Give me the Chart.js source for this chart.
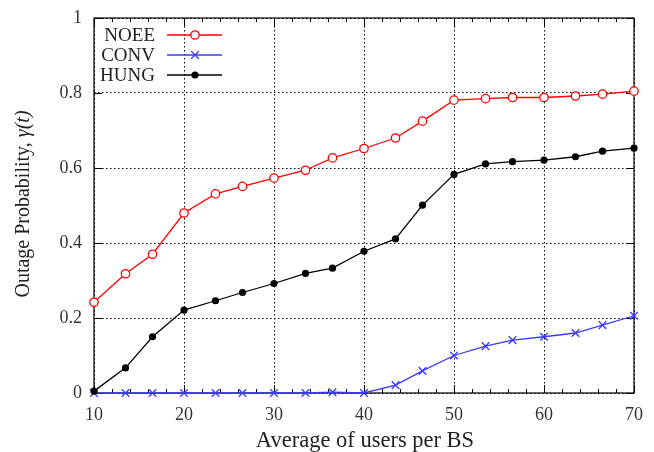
<!DOCTYPE html>
<html><head><meta charset="utf-8">
<script src="https://cdn.jsdelivr.net/npm/chart.js@4/dist/chart.umd.min.js"></script>
<style>html,body{margin:0;padding:0;background:#fff}#w{width:654px;height:452px}</style>
</head><body><div id="w"><canvas id="c" width="654" height="452"></canvas></div>
<script>
const xs = [10,13.5,16.5,20,23.5,26.5,30,33.5,36.5,40,43.5,46.5,50,53.5,56.5,60,63.5,66.5,70];
const noee = [0.242,0.318,0.370,0.480,0.531,0.551,0.573,0.594,0.627,0.652,0.680,0.725,0.781,0.785,0.788,0.788,0.792,0.797,0.805];
const conv = [0,0,0,0,0,0,0,0,0.002,0,0.021,0.059,0.100,0.125,0.141,0.150,0.160,0.181,0.206];
const hung = [0.005,0.067,0.150,0.221,0.246,0.268,0.292,0.319,0.333,0.378,0.411,0.501,0.583,0.611,0.617,0.621,0.630,0.645,0.653];
const seriesNames = ['NOEE','CONV','HUNG'];
const xTitle = 'Average of users per BS';
const yTitleMain = 'Outage Probability, ';
const yTitleSym = 'γ(t)';

const FONT = '"Liberation Serif", "DejaVu Serif", serif';
const RED = '#ff0000', BLUE = '#3a3aff', BLACK = '#000000';

function pts(arr){ return xs.map((x,i)=>({x:x,y:arr[i]})); }

function drawMarker(ctx, style, x, y, color){
  ctx.save();
  ctx.strokeStyle = color; ctx.fillStyle = color; ctx.lineWidth = 1.3; ctx.setLineDash([]);
  if (style === 'circleOpen'){ ctx.beginPath(); ctx.arc(x,y,4.2,0,Math.PI*2); ctx.fillStyle='#fff'; ctx.fill(); ctx.stroke(); }
  else if (style === 'cross'){ const r=3.8; ctx.beginPath(); ctx.moveTo(x-r,y-r); ctx.lineTo(x+r,y+r); ctx.moveTo(x+r,y-r); ctx.lineTo(x-r,y+r); ctx.stroke(); }
  else { ctx.beginPath(); ctx.arc(x,y,3.6,0,Math.PI*2); ctx.fill(); }
  ctx.restore();
}

const framePlugin = {
  id:'frame',
  beforeDatasetsDraw(chart){
    const {ctx, chartArea:a, scales} = chart;
    ctx.save();
    ctx.strokeStyle = '#000'; ctx.lineWidth = 1.2; ctx.setLineDash([]);
    ctx.strokeRect(a.left, a.top, a.right-a.left, a.bottom-a.top);
    ctx.lineWidth = 1;
    ctx.beginPath();
    for (let v=10; v<=70; v+=2){
      const px = Math.round(scales.x.getPixelForValue(v))+0.5;
      const L = (v%10===0)?8:4;
      ctx.moveTo(px,a.bottom); ctx.lineTo(px,a.bottom-L);
      ctx.moveTo(px,a.top); ctx.lineTo(px,a.top+L);
    }
    for (let k=0; k<=5; k++){
      const py = Math.round(scales.y.getPixelForValue(k*0.2))+0.5;
      ctx.moveTo(a.left,py); ctx.lineTo(a.left+8,py);
      ctx.moveTo(a.right,py); ctx.lineTo(a.right-8,py);
    }
    ctx.stroke();
    ctx.restore();
  },
  afterDraw(chart){
    const {ctx, chartArea:a} = chart;
    ctx.save();
    ctx.fillStyle = '#222';
    ctx.font = '22.5px ' + FONT;
    ctx.textAlign = 'center'; ctx.textBaseline = 'alphabetic';
    ctx.fillText(xTitle, (a.left+a.right)/2 + 1, 447);
    ctx.translate(29, 204);
    ctx.rotate(-Math.PI/2);
    ctx.font = '20px ' + FONT;
    const w1 = ctx.measureText(yTitleMain).width;
    ctx.font = 'italic 20px ' + FONT;
    const w2 = ctx.measureText(yTitleSym).width;
    ctx.textAlign = 'left';
    ctx.font = '20px ' + FONT;
    ctx.fillText(yTitleMain, -(w1+w2)/2, 0);
    ctx.font = 'italic 20px ' + FONT;
    ctx.fillText(yTitleSym, -(w1+w2)/2 + w1, 0);
    ctx.restore();
    const colors = [RED, BLUE, BLACK];
    const marks = ['circleOpen','cross','dot'];
    ctx.save();
    ctx.font = '19px ' + FONT;
    ctx.textAlign = 'right'; ctx.textBaseline = 'middle';
    for (let i=0;i<3;i++){
      const y = a.top + 17 + i*20;
      ctx.fillStyle = '#222';
      ctx.fillText(seriesNames[i], 155, y+1);
      ctx.strokeStyle = colors[i]; ctx.lineWidth = 1.3;
      ctx.beginPath(); ctx.moveTo(167,y); ctx.lineTo(222,y); ctx.stroke();
      drawMarker(ctx, marks[i], 195, y, colors[i]);
    }
    ctx.restore();
  }
};

const markerPlugin = {
  id:'markers',
  afterDatasetsDraw(chart){
    const ctx = chart.ctx;
    const colors = [RED, BLUE, BLACK];
    const marks = ['circleOpen','cross','dot'];
    chart.data.datasets.forEach((ds,i)=>{
      const meta = chart.getDatasetMeta(i);
      meta.data.forEach(p=> drawMarker(ctx, marks[i], p.x, p.y, colors[i]));
    });
  }
};

new Chart(document.getElementById('c'), {
  type:'line',
  data:{ datasets:[
    {label:seriesNames[0], data:pts(noee), borderColor:RED, borderWidth:1.3, pointRadius:0, clip:false},
    {label:seriesNames[1], data:pts(conv), borderColor:BLUE, borderWidth:1.3, pointRadius:0, clip:false},
    {label:seriesNames[2], data:pts(hung), borderColor:BLACK, borderWidth:1.3, pointRadius:0, clip:false}
  ]},
  options:{
    responsive:false, animation:false,
    layout:{padding:{top:18, right:20, left:0, bottom:0}},
    plugins:{legend:{display:false}, tooltip:{enabled:false}},
    scales:{
      x:{type:'linear', min:10, max:70,
        afterFit(s){ s.height = 59; s.paddingLeft = 0; s.paddingRight = 0; },
        ticks:{stepSize:10, color:'#333', font:{family:FONT, size:18}, padding:11, maxRotation:0},
        grid:{color:'#000', lineWidth:1, drawTicks:false},
        border:{display:false, dash:[1.5,2.5]}
      },
      y:{min:0, max:1,
        afterFit(s){ s.width = 94; s.paddingTop = 0; s.paddingBottom = 0; },
        ticks:{stepSize:0.2, color:'#333', font:{family:FONT, size:18}, padding:12,
          callback:v=> (Math.abs(v)<1e-9?'0':(Math.abs(v-1)<1e-9?'1':v.toFixed(1)))},
        grid:{color:'#000', lineWidth:1, drawTicks:false},
        border:{display:false, dash:[1.5,2.5]}
      }
    }
  },
  plugins:[framePlugin, markerPlugin]
});
</script></body></html>
